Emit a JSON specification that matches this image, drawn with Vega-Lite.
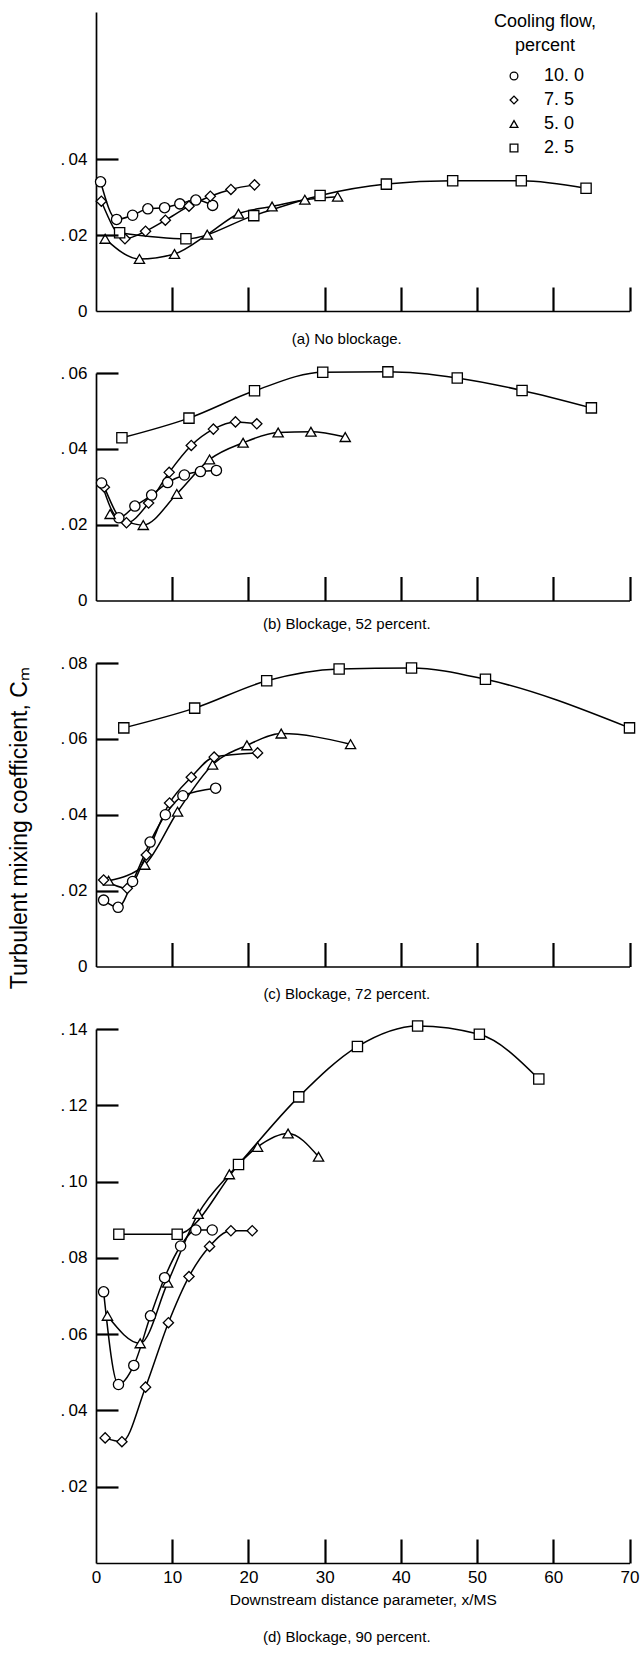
{
  "$schema": "https://vega.github.io/schema/vega-lite/v6.json",
  "background": "white",
  "padding": {"left": 8, "top": 12, "right": 0, "bottom": 0},
  "title": {"text": "Turbulent mixing coefficient, Cₘ", "orient": "left", "anchor": "middle", "offset": 28,
            "font": "Liberation Sans", "fontSize": 23, "fontWeight": "normal", "color": "black"},
  "config": {
    "font": "Liberation Sans Narrow, Liberation Sans, sans-serif",
    "view": {"stroke": null},
    "axis": {
      "domainColor": "black", "domainWidth": 1.7, "ticks": false, "tickSize": 0,
      "grid": false, "labelColor": "black", "labelFontSize": 17, "titleColor": "black",
      "titleFontWeight": "normal", "labelFlush": false, "labelOverlap": false
    },
    "title": {"fontSize": 15, "fontWeight": "normal", "color": "black"},
    "legend": {"labelColor": "black", "titleColor": "black", "titleFontWeight": "normal"}
  },
  "datasets": {
    "pts": [
      {"p": "a", "f": "10.0", "x": 0.6, "y": 0.0340}, {"p": "a", "f": "10.0", "x": 2.7, "y": 0.0241}, {"p": "a", "f": "10.0", "x": 4.8, "y": 0.0252}, {"p": "a", "f": "10.0", "x": 6.8, "y": 0.0269}, {"p": "a", "f": "10.0", "x": 9.0, "y": 0.0272}, {"p": "a", "f": "10.0", "x": 11.0, "y": 0.0282}, {"p": "a", "f": "10.0", "x": 13.1, "y": 0.0292}, {"p": "a", "f": "10.0", "x": 15.3, "y": 0.0278},
      {"p": "a", "f": "7.5", "x": 0.7, "y": 0.0289}, {"p": "a", "f": "7.5", "x": 3.8, "y": 0.0190}, {"p": "a", "f": "7.5", "x": 6.5, "y": 0.0210}, {"p": "a", "f": "7.5", "x": 9.1, "y": 0.0239}, {"p": "a", "f": "7.5", "x": 12.2, "y": 0.0276}, {"p": "a", "f": "7.5", "x": 15.0, "y": 0.0302}, {"p": "a", "f": "7.5", "x": 17.7, "y": 0.0320}, {"p": "a", "f": "7.5", "x": 20.8, "y": 0.0332},
      {"p": "a", "f": "5.0", "x": 1.2, "y": 0.0190}, {"p": "a", "f": "5.0", "x": 5.7, "y": 0.0137}, {"p": "a", "f": "5.0", "x": 10.3, "y": 0.0150}, {"p": "a", "f": "5.0", "x": 14.6, "y": 0.0201}, {"p": "a", "f": "5.0", "x": 18.7, "y": 0.0256}, {"p": "a", "f": "5.0", "x": 23.1, "y": 0.0275}, {"p": "a", "f": "5.0", "x": 27.4, "y": 0.0293}, {"p": "a", "f": "5.0", "x": 31.7, "y": 0.0301},
      {"p": "a", "f": "2.5", "x": 3.1, "y": 0.0206}, {"p": "a", "f": "2.5", "x": 11.8, "y": 0.0190}, {"p": "a", "f": "2.5", "x": 20.7, "y": 0.0251}, {"p": "a", "f": "2.5", "x": 29.4, "y": 0.0304}, {"p": "a", "f": "2.5", "x": 38.1, "y": 0.0334}, {"p": "a", "f": "2.5", "x": 46.8, "y": 0.0343}, {"p": "a", "f": "2.5", "x": 55.8, "y": 0.0343}, {"p": "a", "f": "2.5", "x": 64.3, "y": 0.0323},

      {"p": "b", "f": "2.5", "x": 3.4, "y": 0.0429}, {"p": "b", "f": "2.5", "x": 12.2, "y": 0.0481}, {"p": "b", "f": "2.5", "x": 20.8, "y": 0.0553}, {"p": "b", "f": "2.5", "x": 29.75, "y": 0.0602}, {"p": "b", "f": "2.5", "x": 38.3, "y": 0.0603}, {"p": "b", "f": "2.5", "x": 47.4, "y": 0.0587}, {"p": "b", "f": "2.5", "x": 55.9, "y": 0.0554}, {"p": "b", "f": "2.5", "x": 65.0, "y": 0.0508},
      {"p": "b", "f": "7.5", "x": 1.1, "y": 0.0299}, {"p": "b", "f": "7.5", "x": 4.0, "y": 0.0205}, {"p": "b", "f": "7.5", "x": 6.9, "y": 0.0257}, {"p": "b", "f": "7.5", "x": 9.6, "y": 0.0338}, {"p": "b", "f": "7.5", "x": 12.5, "y": 0.0409}, {"p": "b", "f": "7.5", "x": 15.4, "y": 0.0452}, {"p": "b", "f": "7.5", "x": 18.3, "y": 0.0471}, {"p": "b", "f": "7.5", "x": 21.1, "y": 0.0466},
      {"p": "b", "f": "10.0", "x": 0.73, "y": 0.0310}, {"p": "b", "f": "10.0", "x": 3.0, "y": 0.0218}, {"p": "b", "f": "10.0", "x": 5.1, "y": 0.0249}, {"p": "b", "f": "10.0", "x": 7.3, "y": 0.0278}, {"p": "b", "f": "10.0", "x": 9.4, "y": 0.0311}, {"p": "b", "f": "10.0", "x": 11.6, "y": 0.0331}, {"p": "b", "f": "10.0", "x": 13.7, "y": 0.0340}, {"p": "b", "f": "10.0", "x": 15.8, "y": 0.0343},
      {"p": "b", "f": "5.0", "x": 1.85, "y": 0.0228}, {"p": "b", "f": "5.0", "x": 6.2, "y": 0.0199}, {"p": "b", "f": "5.0", "x": 10.6, "y": 0.0281}, {"p": "b", "f": "5.0", "x": 14.9, "y": 0.0372}, {"p": "b", "f": "5.0", "x": 19.3, "y": 0.0416}, {"p": "b", "f": "5.0", "x": 23.9, "y": 0.0443}, {"p": "b", "f": "5.0", "x": 28.2, "y": 0.0445}, {"p": "b", "f": "5.0", "x": 32.7, "y": 0.0431},

      {"p": "c", "f": "2.5", "x": 3.65, "y": 0.0629}, {"p": "c", "f": "2.5", "x": 12.95, "y": 0.0681}, {"p": "c", "f": "2.5", "x": 22.4, "y": 0.0753}, {"p": "c", "f": "2.5", "x": 31.9, "y": 0.0784}, {"p": "c", "f": "2.5", "x": 41.4, "y": 0.0787}, {"p": "c", "f": "2.5", "x": 51.1, "y": 0.0757}, {"p": "c", "f": "2.5", "x": 70.0, "y": 0.0629},
      {"p": "c", "f": "5.0", "x": 1.65, "y": 0.0226}, {"p": "c", "f": "5.0", "x": 6.4, "y": 0.0268}, {"p": "c", "f": "5.0", "x": 10.7, "y": 0.0408}, {"p": "c", "f": "5.0", "x": 15.3, "y": 0.0532}, {"p": "c", "f": "5.0", "x": 19.8, "y": 0.0583}, {"p": "c", "f": "5.0", "x": 24.3, "y": 0.0614}, {"p": "c", "f": "5.0", "x": 33.4, "y": 0.0586},
      {"p": "c", "f": "7.5", "x": 1.0, "y": 0.0228}, {"p": "c", "f": "7.5", "x": 4.1, "y": 0.0206}, {"p": "c", "f": "7.5", "x": 6.6, "y": 0.0294}, {"p": "c", "f": "7.5", "x": 9.65, "y": 0.0431}, {"p": "c", "f": "7.5", "x": 12.5, "y": 0.0499}, {"p": "c", "f": "7.5", "x": 15.5, "y": 0.0552}, {"p": "c", "f": "7.5", "x": 21.2, "y": 0.0563},
      {"p": "c", "f": "10.0", "x": 1.0, "y": 0.0175}, {"p": "c", "f": "10.0", "x": 2.9, "y": 0.0156}, {"p": "c", "f": "10.0", "x": 4.8, "y": 0.0224}, {"p": "c", "f": "10.0", "x": 7.1, "y": 0.0328}, {"p": "c", "f": "10.0", "x": 9.1, "y": 0.0400}, {"p": "c", "f": "10.0", "x": 11.4, "y": 0.0450}, {"p": "c", "f": "10.0", "x": 15.7, "y": 0.0470},

      {"p": "d", "f": "2.5", "x": 3.0, "y": 0.0862}, {"p": "d", "f": "2.5", "x": 10.65, "y": 0.0862}, {"p": "d", "f": "2.5", "x": 18.7, "y": 0.1045}, {"p": "d", "f": "2.5", "x": 26.6, "y": 0.1222}, {"p": "d", "f": "2.5", "x": 34.3, "y": 0.1354}, {"p": "d", "f": "2.5", "x": 42.2, "y": 0.1408}, {"p": "d", "f": "2.5", "x": 50.3, "y": 0.1386}, {"p": "d", "f": "2.5", "x": 58.1, "y": 0.1269},
      {"p": "d", "f": "5.0", "x": 1.5, "y": 0.0648}, {"p": "d", "f": "5.0", "x": 5.8, "y": 0.0576}, {"p": "d", "f": "5.0", "x": 9.4, "y": 0.0735}, {"p": "d", "f": "5.0", "x": 13.4, "y": 0.0915}, {"p": "d", "f": "5.0", "x": 17.5, "y": 0.1019}, {"p": "d", "f": "5.0", "x": 21.2, "y": 0.1091}, {"p": "d", "f": "5.0", "x": 25.2, "y": 0.1126}, {"p": "d", "f": "5.0", "x": 29.2, "y": 0.1065},
      {"p": "d", "f": "10.0", "x": 1.0, "y": 0.0711}, {"p": "d", "f": "10.0", "x": 2.95, "y": 0.0468}, {"p": "d", "f": "10.0", "x": 4.96, "y": 0.0518}, {"p": "d", "f": "10.0", "x": 7.15, "y": 0.0648}, {"p": "d", "f": "10.0", "x": 9.0, "y": 0.0748}, {"p": "d", "f": "10.0", "x": 11.1, "y": 0.0831}, {"p": "d", "f": "10.0", "x": 13.1, "y": 0.0873}, {"p": "d", "f": "10.0", "x": 15.25, "y": 0.0873},
      {"p": "d", "f": "7.5", "x": 1.2, "y": 0.0328}, {"p": "d", "f": "7.5", "x": 3.4, "y": 0.0318}, {"p": "d", "f": "7.5", "x": 6.5, "y": 0.0461}, {"p": "d", "f": "7.5", "x": 9.5, "y": 0.0630}, {"p": "d", "f": "7.5", "x": 12.2, "y": 0.0751}, {"p": "d", "f": "7.5", "x": 14.9, "y": 0.0830}, {"p": "d", "f": "7.5", "x": 17.7, "y": 0.0871}, {"p": "d", "f": "7.5", "x": 20.5, "y": 0.0871}
    ]
  },
  "bounds": "flush",
  "spacing": 62,
  "resolve": {"scale": {"x": "independent", "y": "independent", "shape": "independent"}},
  "vconcat": [
    {
      "width": 533.5, "height": 299,
      "title": {"text": "(a) No blockage.", "orient": "bottom", "offset": 13, "dx": -16},
      "resolve": {"axis": {"x": "independent", "y": "independent"}},
      "layer": [
        {"data": {"name": "pts"}, "transform": [{"filter": "datum.p == 'a'"}],
         "mark": {"type": "line", "interpolate": "monotone", "color": "black", "strokeWidth": 1.5},
         "encoding": {
           "x": {"field": "x", "type": "quantitative", "scale": {"domain": [0, 70], "nice": false},
                 "axis": {"values": [0, 10, 20, 30, 40, 50, 60, 70], "labels": false, "title": null}},
           "y": {"field": "y", "type": "quantitative", "scale": {"domain": [0, 0.0787], "nice": false},
                 "axis": {"values": [0, 0.02, 0.04], "labelPadding": 9, "title": null,
                          "labelExpr": "datum.value == 0 ? '0' : '.\u2009' + substring(format(datum.value, '.2f'), 2)"}},
           "detail": {"field": "f", "type": "nominal"}}},
        {"data": {"name": "pts"}, "transform": [{"filter": "datum.p == 'a'"}],
         "mark": {"type": "point", "filled": false, "fill": "white", "color": "black", "strokeWidth": 1.3, "size": 105, "opacity": 1},
         "encoding": {
           "x": {"field": "x", "type": "quantitative",
                 "axis": {"orient": "top", "offset": -299, "domain": false, "labels": false, "ticks": true, "tickSize": 24, "tickWidth": 2.2, "tickColor": "black", "values": [10, 20, 30, 40, 50, 60, 70], "title": null, "zindex": 1}},
           "y": {"field": "y", "type": "quantitative",
                 "axis": {"orient": "right", "offset": -533.5, "domain": false, "labels": false, "ticks": true, "tickSize": 22, "tickWidth": 2.2, "tickColor": "black", "values": [0.02, 0.04], "title": null, "zindex": 1}},
           "shape": {"field": "f", "type": "nominal",
           "scale": {"domain": ["10.0", "7.5", "5.0", "2.5"], "range": ["circle", "diamond", "triangle-up", "square"]},
           "legend": {"orient": "none", "legendX": 398, "legendY": 1, "title": ["Cooling flow,", "percent"],
                      "titleFontSize": 18, "titleLineHeight": 24, "titleAnchor": "middle", "titleAlign": "center", "titlePadding": 12,
                      "labelFontSize": 18, "labelOffset": 21, "symbolSize": 60, "symbolStrokeWidth": 1.3,
                      "rowPadding": 6,
                      "labelExpr": "datum.label == '10.0' ? '10. 0' : '\u2007' + replace(datum.label, '.', '. ')"}}}}
      ]
    },
    {
      "width": 533.5, "height": 227.5,
      "title": {"text": "(b) Blockage, 52 percent.", "orient": "bottom", "offset": 8, "dx": -16},
      "resolve": {"axis": {"x": "independent", "y": "independent"}},
      "layer": [
        {"data": {"name": "pts"}, "transform": [{"filter": "datum.p == 'b'"}],
         "mark": {"type": "line", "interpolate": "monotone", "color": "black", "strokeWidth": 1.5},
         "encoding": {
           "x": {"field": "x", "type": "quantitative", "scale": {"domain": [0, 70], "nice": false},
                 "axis": {"values": [0, 10, 20, 30, 40, 50, 60, 70], "labels": false, "title": null}},
           "y": {"field": "y", "type": "quantitative", "scale": {"domain": [0, 0.06], "nice": false},
                 "axis": {"values": [0, 0.02, 0.04, 0.06], "labelPadding": 9, "title": null,
                          "labelExpr": "datum.value == 0 ? '0' : '.\u2009' + substring(format(datum.value, '.2f'), 2)"}},
           "detail": {"field": "f", "type": "nominal"}}},
        {"data": {"name": "pts"}, "transform": [{"filter": "datum.p == 'b'"}],
         "mark": {"type": "point", "filled": false, "fill": "white", "color": "black", "strokeWidth": 1.3, "size": 105, "opacity": 1},
         "encoding": {
           "x": {"field": "x", "type": "quantitative",
                 "axis": {"orient": "top", "offset": -227.5, "domain": false, "labels": false, "ticks": true, "tickSize": 24, "tickWidth": 2.2, "tickColor": "black", "values": [10, 20, 30, 40, 50, 60, 70], "title": null, "zindex": 1}},
           "y": {"field": "y", "type": "quantitative",
                 "axis": {"orient": "right", "offset": -533.5, "domain": false, "labels": false, "ticks": true, "tickSize": 22, "tickWidth": 2.2, "tickColor": "black", "values": [0.02, 0.04, 0.06], "title": null, "zindex": 1}},
           "shape": {"field": "f", "type": "nominal",
           "scale": {"domain": ["10.0", "7.5", "5.0", "2.5"], "range": ["circle", "diamond", "triangle-up", "square"]},
           "legend": null}}}
      ]
    },
    {
      "width": 533.5, "height": 303.5,
      "title": {"text": "(c) Blockage, 72 percent.", "orient": "bottom", "offset": 12, "dx": -16},
      "resolve": {"axis": {"x": "independent", "y": "independent"}},
      "layer": [
        {"data": {"name": "pts"}, "transform": [{"filter": "datum.p == 'c'"}],
         "mark": {"type": "line", "interpolate": "monotone", "color": "black", "strokeWidth": 1.5},
         "encoding": {
           "x": {"field": "x", "type": "quantitative", "scale": {"domain": [0, 70], "nice": false},
                 "axis": {"values": [0, 10, 20, 30, 40, 50, 60, 70], "labels": false, "title": null}},
           "y": {"field": "y", "type": "quantitative", "scale": {"domain": [0, 0.08], "nice": false},
                 "axis": {"values": [0, 0.02, 0.04, 0.06, 0.08], "labelPadding": 9, "title": null,
                          "labelExpr": "datum.value == 0 ? '0' : '.\u2009' + substring(format(datum.value, '.2f'), 2)"}},
           "detail": {"field": "f", "type": "nominal"}}},
        {"data": {"name": "pts"}, "transform": [{"filter": "datum.p == 'c'"}],
         "mark": {"type": "point", "filled": false, "fill": "white", "color": "black", "strokeWidth": 1.3, "size": 105, "opacity": 1},
         "encoding": {
           "x": {"field": "x", "type": "quantitative",
                 "axis": {"orient": "top", "offset": -303.5, "domain": false, "labels": false, "ticks": true, "tickSize": 24, "tickWidth": 2.2, "tickColor": "black", "values": [10, 20, 30, 40, 50, 60, 70], "title": null, "zindex": 1}},
           "y": {"field": "y", "type": "quantitative",
                 "axis": {"orient": "right", "offset": -533.5, "domain": false, "labels": false, "ticks": true, "tickSize": 22, "tickWidth": 2.2, "tickColor": "black", "values": [0.02, 0.04, 0.06, 0.08], "title": null, "zindex": 1}},
           "shape": {"field": "f", "type": "nominal",
           "scale": {"domain": ["10.0", "7.5", "5.0", "2.5"], "range": ["circle", "diamond", "triangle-up", "square"]},
           "legend": null}}}
      ]
    },
    {
      "width": 533.5, "height": 534,
      "title": {"text": "(d) Blockage, 90 percent.", "orient": "bottom", "offset": 22, "dx": -16},
      "resolve": {"axis": {"x": "independent", "y": "independent"}},
      "layer": [
        {"data": {"name": "pts"}, "transform": [{"filter": "datum.p == 'd'"}],
         "mark": {"type": "line", "interpolate": "monotone", "color": "black", "strokeWidth": 1.5},
         "encoding": {
           "x": {"field": "x", "type": "quantitative", "scale": {"domain": [0, 70], "nice": false},
                 "axis": {"values": [0, 10, 20, 30, 40, 50, 60, 70], "labelPadding": 6,
                          "title": "Downstream distance parameter, x/MS", "titleFontSize": 15.5, "titlePadding": 7}},
           "y": {"field": "y", "type": "quantitative", "scale": {"domain": [0, 0.14], "nice": false},
                 "axis": {"values": [0.02, 0.04, 0.06, 0.08, 0.10, 0.12, 0.14], "labelPadding": 9, "title": null,
                          "labelExpr": "'.\u2009' + substring(format(datum.value, '.2f'), 2)"}},
           "detail": {"field": "f", "type": "nominal"}}},
        {"data": {"name": "pts"}, "transform": [{"filter": "datum.p == 'd'"}],
         "mark": {"type": "point", "filled": false, "fill": "white", "color": "black", "strokeWidth": 1.3, "size": 105, "opacity": 1},
         "encoding": {
           "x": {"field": "x", "type": "quantitative",
                 "axis": {"orient": "top", "offset": -534, "domain": false, "labels": false, "ticks": true, "tickSize": 24, "tickWidth": 2.2, "tickColor": "black", "values": [10, 20, 30, 40, 50, 60, 70], "title": null, "zindex": 1}},
           "y": {"field": "y", "type": "quantitative",
                 "axis": {"orient": "right", "offset": -533.5, "domain": false, "labels": false, "ticks": true, "tickSize": 22, "tickWidth": 2.2, "tickColor": "black", "values": [0.02, 0.04, 0.06, 0.08, 0.10, 0.12, 0.14], "title": null, "zindex": 1}},
           "shape": {"field": "f", "type": "nominal",
           "scale": {"domain": ["10.0", "7.5", "5.0", "2.5"], "range": ["circle", "diamond", "triangle-up", "square"]},
           "legend": null}}}
      ]
    }
  ]
}
